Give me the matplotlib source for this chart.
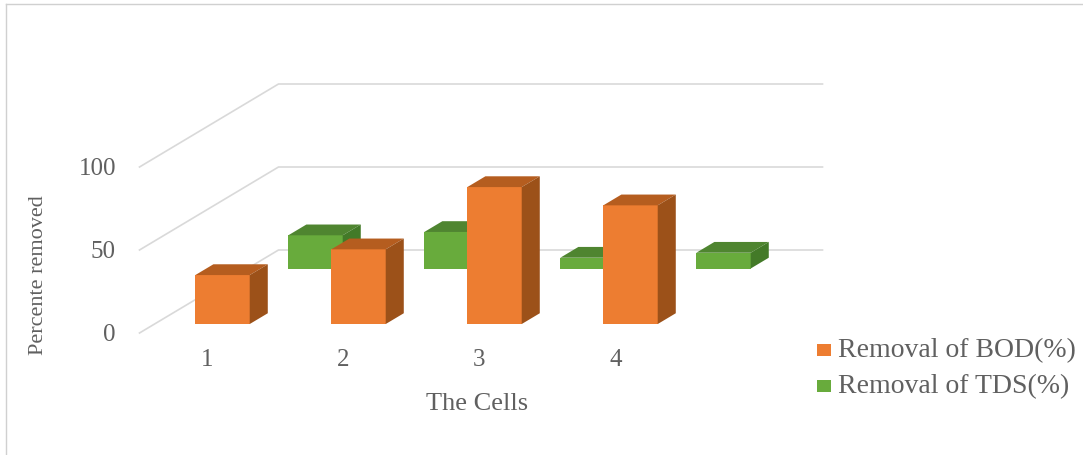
# -*- coding: utf-8 -*-
import matplotlib
matplotlib.use('Agg')
import matplotlib.pyplot as plt
from matplotlib.patches import Polygon, Rectangle

# Data
cells = [1, 2, 3, 4]
bod_removal = [29.5, 45, 82.5, 71.5]
tds_removal = [20, 22, 6.5, 9.5]
y_ticks = [0, 50, 100]
legend_labels = ['Removal of BOD(%)', 'Removal of TDS(%)']

orange = ('#ED7D31', '#B55D1F', '#9C5119')
green = ('#68AB3C', '#4F8530', '#437A28')
gray_text = '#606060'
grid_col = '#d9d9d9'

W, H = 1083, 455
# one unit of depth moves the point back along the floor
depth_x = 139 / 136
depth_y = 50


def proj(x, y, d):
    return x + d * depth_x, y + d * depth_y


def bar3d(ax, x, h, d0, cols, hw=0.2, dd=0.13):
    front, top, side = cols
    corners = [proj(x - hw, 0, d0), proj(x + hw, 0, d0), proj(x + hw, h, d0), proj(x - hw, h, d0)]
    ax.add_patch(Polygon(corners, fc=front, ec='none', zorder=2))
    corners = [proj(x - hw, h, d0), proj(x + hw, h, d0), proj(x + hw, h, d0 + dd), proj(x - hw, h, d0 + dd)]
    ax.add_patch(Polygon(corners, fc=top, ec='none', zorder=2))
    corners = [proj(x + hw, 0, d0), proj(x + hw, 0, d0 + dd), proj(x + hw, h, d0 + dd), proj(x + hw, h, d0)]
    ax.add_patch(Polygon(corners, fc=side, ec='none', zorder=2))


plt.rcParams['font.family'] = ['Liberation Serif', 'DejaVu Serif']

fig = plt.figure(figsize=(W / 100, H / 100), dpi=100)
ax = fig.add_axes([0, 0, 1, 1])
# x is the cell number, y is percent on the front plane
ax.set_xlim(1 - 207.5 / 136, 1 + (W - 207.5) / 136)
ax.set_ylim(-(H - 333) / 1.66, 333 / 1.66)
ax.axis('off')

# picture frame
fig.add_artist(plt.Line2D([6 / W, 6 / W], [0, 1 - 4 / H], color='#d0d0d0', lw=1))
fig.add_artist(plt.Line2D([6 / W, 1], [1 - 4 / H, 1 - 4 / H], color='#d0d0d0', lw=1))

# gridlines on side and back wall
for t in y_ticks:
    pts = [proj(0.5, t, 0), proj(0.5, t, 1), proj(4.5, t, 1)]
    ax.plot([p[0] for p in pts], [p[1] for p in pts], color=grid_col, lw=1.2, zorder=1)
    ax.text(0.327, t - 1, str(t), ha='right', va='center', color=gray_text, fontsize=18)

for c, v in zip(cells, tds_removal):
    bar3d(ax, c, v, 0.777, green)
for c, v in zip(cells, bod_removal):
    bar3d(ax, c, v, 0.108, orange)

for c in cells:
    ax.text(c, -16, str(c), ha='center', va='center', color=gray_text, fontsize=18)

ax.text(1 + (477 - 207.5) / 136, -43, 'The Cells', ha='center', va='center', color=gray_text, fontsize=19)
ax.text(1 + (39 - 207.5) / 136, (333 - 275) / 1.66, 'Percente removed', rotation=90,
        ha='center', va='center', color=gray_text, fontsize=16)

# legend
for i, (lab, col) in enumerate(zip(legend_labels, (orange[0], green[0]))):
    py = 350 + i * 36
    fig.add_artist(Rectangle((817 / W, 1 - (py + 6) / H), 14 / W, 12 / H, fc=col, ec='none',
                             transform=fig.transFigure))
    fig.text(838 / W, 1 - (py + 1) / H, lab, ha='left', va='center', color=gray_text, fontsize=20)

fig.savefig('out.png', dpi=100)
